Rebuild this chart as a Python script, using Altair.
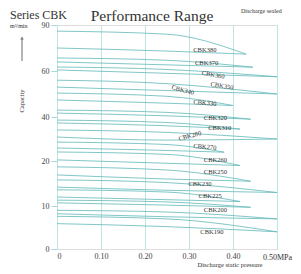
import altair as alt
import pandas as pd

models = ["CBK380", "CBK370", "CBK360", "CBK350", "CBK340", "CBK330", "CBK320", "CBK310",
          "CBK280", "CBK270", "CBK260", "CBK250", "CBK230", "CBK225", "CBK200", "CBK190"]
# capacity (m3/min) read at pressure 0 and 0.25 MPa for upper and lower boundary curves
up_start = [86.0, 68.5, 62.6, 56.0, 50.4, 43.0, 38.6, 34.1, 28.6, 24.1, 18.7, 15.8, 13.6, 11.3, 9.0, 7.6]
up_mid = [84.0, 67.0, 61.0, 54.5, 49.0, 42.0, 37.5, 33.0, 27.5, 23.0, 18.0, 15.2, 13.1, 10.9, 8.6, 7.0]
lo_start = [75.0, 65.9, 60.7, 53.0, 47.4, 41.7, 37.3, 30.9, 25.9, 20.5, 16.9, 14.2, 12.0, 10.7, 8.2, 5.9]
lo_mid = [73.0, 64.0, 59.0, 51.5, 46.0, 40.5, 36.0, 29.5, 24.8, 19.5, 16.0, 13.5, 11.4, 10.2, 7.5, 5.2]
tip_p = [0.43, 0.445, 0.50, 0.50, 0.40, 0.44, 0.416, 0.50, 0.38, 0.416, 0.44, 0.50, 0.416, 0.44, 0.50, 0.50]
tip_q = [71.0, 62.5, 57.5, 50.0, 45.0, 39.0, 34.5, 30.0, 24.0, 19.0, 15.5, 13.0, 11.0, 9.7, 7.0, 4.0]
# label positions
lab_p = [0.336, 0.34, 0.355, 0.375, 0.286, 0.336, 0.36, 0.37, 0.302, 0.336, 0.36, 0.36, 0.325, 0.348, 0.36, 0.352]
lab_q = [73.7, 65.2, 58.3, 53.5, 51.7, 46.1, 39.5, 35.0, 31.4, 26.4, 20.5, 17.6, 14.9, 12.2, 9.0, 3.9]
lab_ang = [0, 0, 10, 10, 15, 5, 0, 0, 345, 5, 0, 0, 0, 0, 0, 0]

y_ticks = [0, 10, 20, 40, 60, 90]
x_ticks = [0, 0.1, 0.2, 0.3, 0.4, 0.5]

rows = []
for i, m in enumerate(models):
    for branch, a, b in (("up", up_start[i], up_mid[i]), ("lo", lo_start[i], lo_mid[i])):
        k = m + branch
        rows += [
            {"seg": k, "p": 0.0, "q": a, "o": 0},
            {"seg": k, "p": 0.25, "q": b, "o": 1},
            {"seg": k, "p": tip_p[i], "q": tip_q[i], "o": 2},
        ]
lines_df = pd.DataFrame(rows)
labels_df = pd.DataFrame({"m": models, "p": lab_p, "q": lab_q, "a": lab_ang})

W, H = 220, 224
serif = "Liberation Serif"

x = alt.X("p:Q", scale=alt.Scale(domain=[0, 0.5], nice=False, zero=False),
          axis=alt.Axis(values=x_ticks, title=None, grid=True, gridColor="#bfe4e4", gridWidth=1,
                        domain=False, ticks=False, labelFont=serif, labelFontSize=8,
                        labelColor="#444", labelPadding=3,
                        labelExpr="datum.value == 0 ? '0' : datum.value >= 0.5 ? '' : format(datum.value, '.2f')"))
y = alt.Y("q:Q", scale=alt.Scale(domain=y_ticks, range=[H, 181, 136, 92, 46, 0], nice=False, zero=False),
          axis=alt.Axis(values=y_ticks, title=None, grid=False, domain=False, ticks=True,
                        tickColor="#a8d8d8", tickSize=6, labelFont=serif, labelFontSize=8,
                        labelColor="#444", labelPadding=2))

lines = alt.Chart(lines_df).mark_line(strokeWidth=1, interpolate="monotone", color="#6cbcbc", opacity=0.85).encode(
    x=x, y=y, detail="seg:N", order="o:Q")

labels = alt.Chart(labels_df).mark_text(font=serif, fontSize=6.5, color="#333").encode(
    x="p:Q", y="q:Q", text="m:N", angle=alt.Angle("a:Q", scale=None))

def txt(s, xv, yv, size, align="left", angle=0, weight="normal", color="#333", baseline="alphabetic"):
    return alt.Chart(pd.DataFrame({"t": [s]})).mark_text(
        font=serif, fontSize=size, align=align, angle=angle, fontWeight=weight, color=color, baseline=baseline
    ).encode(x=alt.value(xv), y=alt.value(yv), text="t:N")

series = txt("Series CBK", -47, -6, 12)
title = txt("Performance Range", 95, -4, 15.5, align="center")
unit = txt("m³/min", -47, 3, 6)
cap = txt("Capacity", -35, 76, 6.5, align="center", angle=270, baseline="middle")
top_right = txt("Discharge sealed", 184, -12, 6)
mpa = txt("0.50MPa", 235, H + 11, 8, align="right")
bottom = txt("Discharge static pressure", 173, H + 18, 6.5, align="center")

arrow_line = alt.Chart(pd.DataFrame({"t": [0]})).mark_rule(color="#444", strokeWidth=0.8).encode(
    x=alt.value(-35), y=alt.value(14), y2=alt.value(36))
arrow_head = alt.Chart(pd.DataFrame({"t": [0]})).mark_point(shape="triangle-up", filled=True, size=12, color="#444").encode(
    x=alt.value(-35), y=alt.value(13))

chart = alt.layer(lines, labels, series, title, unit, cap, top_right, mpa, bottom, arrow_line, arrow_head).properties(
    width=W, height=H, autosize="none",
    padding={"left": 49, "top": 17, "right": 16, "bottom": 20},
).configure_view(stroke="#a8dcdc", strokeWidth=1).configure(background="white")

chart.save("out.html", embed_options={"renderer": "svg", "actions": False})
